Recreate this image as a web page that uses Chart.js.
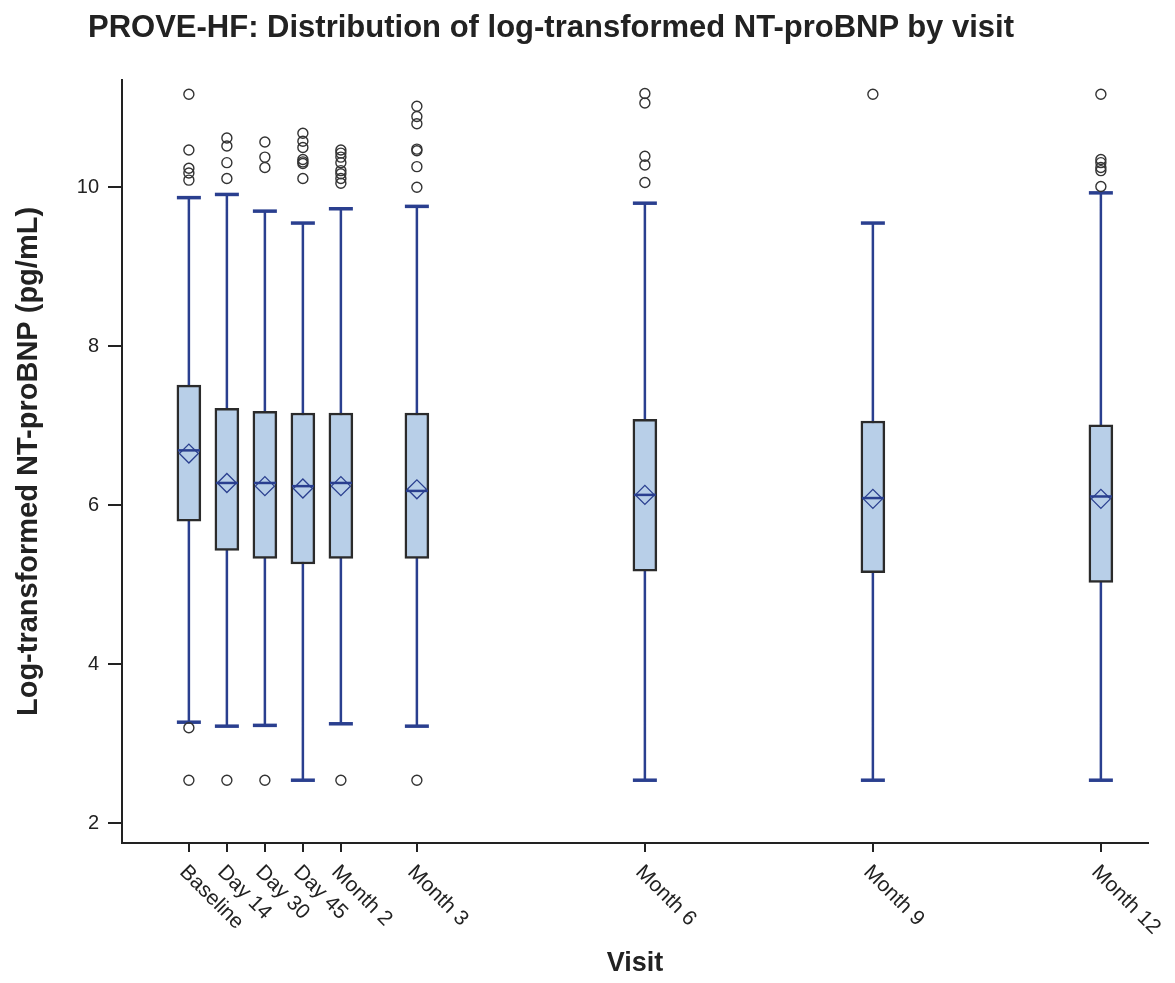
<!DOCTYPE html>
<html>
<head>
<meta charset="utf-8">
<title>PROVE-HF NT-proBNP by visit</title>
<script src="https://cdn.jsdelivr.net/npm/chart.js@4.4.1/dist/chart.umd.min.js"></script>
<style>
  html, body { margin: 0; padding: 0; background: #fff; }
  #wrap { position: relative; width: 1175px; height: 983px; }
  #title {
    position: absolute; left: 88px; top: 11px; margin: 0;
    font: bold 31px "Liberation Sans", Arial, sans-serif; line-height: 31px;
    color: #222; white-space: nowrap;
  }
  canvas { display: block; }
</style>
</head>
<body>
<div id="wrap">
  <canvas id="chart" width="1175" height="983"></canvas>
  <h1 id="title">PROVE-HF: Distribution of log-transformed NT-proBNP by visit</h1>
</div>
<script>
// visits, placed on a month axis
const visitLabels = ['Baseline', 'Day 14', 'Day 30', 'Day 45', 'Month 2', 'Month 3', 'Month 6', 'Month 9', 'Month 12'];
const visitMonth = [0, 0.5, 1, 1.5, 2, 3, 6, 9, 12];

// box plot stats (log pg/mL)
const whiskerLow = [3.27, 3.22, 3.23, 2.54, 3.25, 3.22, 2.54, 2.54, 2.54];
const q1 = [5.80, 5.43, 5.33, 5.26, 5.33, 5.33, 5.17, 5.15, 5.03];
const median = [6.69, 6.28, 6.28, 6.24, 6.28, 6.18, 6.13, 6.09, 6.11];
const mean = [6.65, 6.28, 6.24, 6.21, 6.24, 6.20, 6.13, 6.08, 6.08];
const q3 = [7.51, 7.22, 7.18, 7.16, 7.16, 7.16, 7.08, 7.06, 7.01];
const whiskerHigh = [9.87, 9.91, 9.70, 9.55, 9.73, 9.76, 9.80, 9.55, 9.93];

const outliers = [
  [11.17, 10.47, 10.24, 10.18, 10.09, 3.20, 2.54],
  [10.62, 10.52, 10.31, 10.11, 2.54],
  [10.57, 10.38, 10.25, 2.54],
  [10.68, 10.58, 10.50, 10.35, 10.32, 10.30, 10.11],
  [10.47, 10.43, 10.38, 10.31, 10.21, 10.17, 10.11, 10.05, 2.54],
  [11.02, 10.89, 10.80, 10.48, 10.46, 10.26, 10.00, 2.54],
  [11.18, 11.06, 10.39, 10.28, 10.06],
  [11.17],
  [11.17, 10.35, 10.31, 10.25, 10.21, 10.01]
];

const yTicks = [2, 4, 6, 8, 10];

const FONT = '"Liberation Sans", Arial, sans-serif';
const navy = '#2a3f8f';
const axisColor = '#222';

// build datasets from the arrays
const boxData = visitMonth.map((m, i) => ({ x: m, y: [q1[i], q3[i]] }));
const whiskerData = [];
visitMonth.forEach((m, i) => {
  whiskerData.push({ x: m, y: whiskerLow[i] }, { x: m, y: whiskerHigh[i] }, { x: m, y: null });
});
const capData = visitMonth.flatMap((m, i) => [{ x: m, y: whiskerLow[i] }, { x: m, y: whiskerHigh[i] }]);
const medianData = visitMonth.map((m, i) => ({ x: m, y: median[i] }));
const meanData = visitMonth.map((m, i) => ({ x: m, y: mean[i] }));
const outlierData = outliers.flatMap((arr, i) => arr.map(v => ({ x: visitMonth[i], y: v })));

// x labels go down to the right, starting at the tick
const slantedLabels = {
  id: 'slantedLabels',
  afterDraw(chart) {
    const { ctx } = chart;
    const x = chart.scales.x;
    ctx.save();
    ctx.font = '21px ' + FONT;
    ctx.fillStyle = axisColor;
    ctx.textAlign = 'left';
    ctx.textBaseline = 'middle';
    visitMonth.forEach((m, i) => {
      ctx.save();
      ctx.translate(x.getPixelForValue(m) - 6, x.top + 26);
      ctx.rotate(Math.PI / 4);
      ctx.fillText(visitLabels[i], 0, 0);
      ctx.restore();
    });
    ctx.restore();
  }
};

new Chart(document.getElementById('chart'), {
  type: 'bar',
  data: {
    datasets: [
      {
        type: 'line',
        data: whiskerData,
        borderColor: navy,
        borderWidth: 2.5,
        pointRadius: 0,
        spanGaps: false,
        order: 6
      },
      {
        type: 'bar',
        data: boxData,
        backgroundColor: '#b8cfe8',
        borderColor: '#2b2b2b',
        borderWidth: 2.5,
        borderSkipped: false,
        barThickness: 24,
        order: 5
      },
      {
        type: 'scatter',
        data: capData,
        pointStyle: 'line',
        pointRadius: 12,
        pointBorderWidth: 3.5,
        pointBorderColor: navy,
        order: 4
      },
      {
        type: 'scatter',
        data: medianData,
        pointStyle: 'line',
        pointRadius: 11,
        pointBorderWidth: 2.5,
        pointBorderColor: navy,
        order: 3
      },
      {
        type: 'scatter',
        data: meanData,
        pointStyle: 'rectRot',
        pointRadius: 9.5,
        pointBorderWidth: 1.3,
        pointBorderColor: navy,
        pointBackgroundColor: 'rgba(0,0,0,0)',
        order: 2
      },
      {
        type: 'scatter',
        data: outlierData,
        pointStyle: 'circle',
        pointRadius: 5,
        pointBorderWidth: 1.4,
        pointBorderColor: '#333',
        pointBackgroundColor: 'rgba(255,255,255,0)',
        order: 1
      }
    ]
  },
  options: {
    responsive: false,
    animation: false,
    layout: { padding: { top: 80, right: 27, left: 0, bottom: 0 } },
    plugins: {
      legend: { display: false },
      tooltip: { enabled: false }
    },
    scales: {
      x: {
        type: 'linear',
        min: -0.88,
        max: 12.62,
        offset: false,
        afterBuildTicks: s => { s.ticks = visitMonth.map(v => ({ value: v })); },
        afterFit: s => { s.height = 140; },
        ticks: { display: false },
        grid: { drawOnChartArea: false, drawTicks: true, tickLength: 9, color: axisColor, lineWidth: 2, offset: false },
        border: { display: true, color: axisColor, width: 2 },
        title: {
          display: true,
          text: 'Visit',
          color: axisColor,
          font: { family: FONT, size: 27, weight: 'bold' },
          padding: { top: 0, bottom: 3 }
        }
      },
      y: {
        type: 'linear',
        min: 1.75,
        max: 11.35,
        afterBuildTicks: s => { s.ticks = yTicks.map(v => ({ value: v })); },
        afterFit: s => { s.width = 122; },
        ticks: { color: axisColor, padding: 9, font: { family: FONT, size: 20 } },
        grid: { drawOnChartArea: false, drawTicks: true, tickLength: 14, color: axisColor, lineWidth: 2 },
        border: { display: true, color: axisColor, width: 2 },
        title: {
          display: true,
          text: 'Log-transformed NT-proBNP (pg/mL)',
          color: axisColor,
          font: { family: FONT, size: 29, weight: 'bold' },
          padding: { top: 12, bottom: 0 }
        }
      }
    }
  },
  plugins: [slantedLabels]
});
</script>
</body>
</html>
